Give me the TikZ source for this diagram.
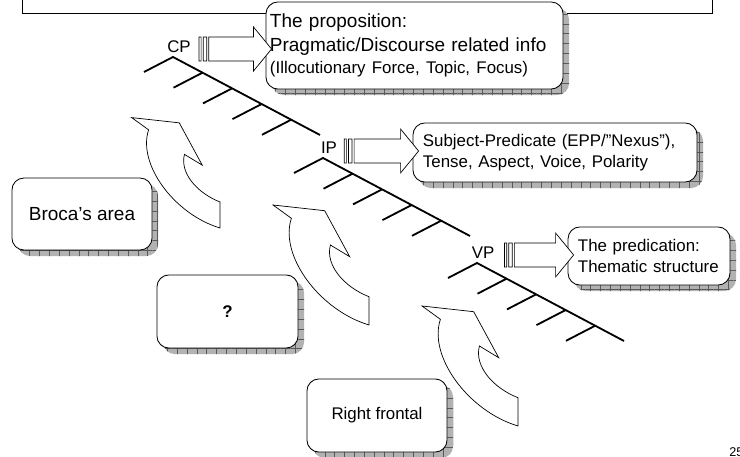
\documentclass[tikz,border=0pt]{standalone}
\usepackage{fontspec}
\setmainfont{Liberation Sans}
\usetikzlibrary{calc,shadows,patterns.meta}

\tikzset{
  box/.style={draw, fill=white, rounded corners=8.5pt, line width=0.6pt,
    general shadow={fill=gray!60, shadow xshift=4.3pt, shadow yshift=-4.3pt},
    general shadow={pattern={Hatch[distance=7pt,line width=0.35pt]}, pattern color=black!65,
      shadow xshift=4.3pt, shadow yshift=-4.3pt}},
  tree/.style={line width=1.3pt},
  blockarrow/.style={draw, fill=white, line width=0.5pt},
  lbl/.style={font=\fontsize{12}{14}\selectfont, inner sep=0pt},
}

% striped block arrow from a label to its box
\newcommand\striped[2]{%
  \draw[blockarrow] let \p1=(#1), \p2=(#2.west) in
    (\x1,\y1-8.5pt) rectangle (\x1+1.5pt,\y1+8.5pt)
    (\x1+3pt,\y1-8.5pt) rectangle (\x1+5.5pt,\y1+8.5pt)
    (\x1+7pt,\y1-8.5pt) -- (\x2-8.5pt,\y1-8.5pt) -- (\x2-8.5pt,\y1-15.6pt) -- (\x2+4.3pt,\y1)
    -- (\x2-8.5pt,\y1+15.6pt) -- (\x2-8.5pt,\y1+8.5pt) -- (\x1+7pt,\y1+8.5pt) -- cycle;}

\begin{document}
\begin{tikzpicture}[x=0.025cm,y=-0.025cm]
  \useasboundingbox (0,0) rectangle (740,457);

  % Title frame (cut off at the top)
  \draw[line width=0.6pt] (22,-20) rectangle (712,13);

  % Trees with their labels
  \foreach \ax/\ay/\nm in {173/57/CP, 323/158/IP, 477/263/VP}{
    \node[lbl] (\nm) at (\ax+6,\ay-10) {\nm};
    \draw[tree] (\ax-29,\ay+15) -- (\ax,\ay) -- ++(147,78);
    \foreach \k in {1,...,4}
      \draw[tree] (\ax+29.5*\k,\ay+15.7*\k) -- ++(-29,15);
  }

  % Curved arrows pointing up to the trees
  \foreach \bx/\by/\s in {220/228/0.92, 369/325/1, 518/426/1}{
    \begin{scope}[shift={(\bx,\by)}, scale=\s]
      \draw[blockarrow] (0,0) -- (0,-28.3) .. controls (-25,-38) and (-44,-60) .. (-38.6,-80)
        -- (-19.3,-68.3) -- (-44.3,-114.3) -- (-96,-120) -- (-77.6,-106.7)
        .. controls (-90,-70) and (-50,-15) .. (0,0) -- cycle;
    \end{scope}
  }

  % Boxes
  \node[box, inner xsep=2.85pt, text width=205.6pt, minimum height=61.9pt, align=left,
    font=\fontsize{13.5}{17}\selectfont] (cpbox) at (414.5,45.5)
    {The proposition:\\Pragmatic/Discourse related info\\[-1.5pt]
     {\fontsize{12}{15}\selectfont (Illocutionary Force, Topic, Focus)}};
  \node[box, inner xsep=7.1pt, text width=187.8pt, minimum height=42pt, align=left,
    font=\fontsize{12}{15}\selectfont] (ipbox) at (555,152.5)
    {Subject-Predicate (EPP/”Nexus”),\\Tense, Aspect, Voice, Polarity};
  \node[box, inner xsep=7.1pt, text width=101pt, minimum height=41.3pt, align=left,
    font=\fontsize{12}{14.5}\selectfont] (vpbox) at (649,256)
    {The predication:\\Thematic structure};

  \node[box, minimum width=99.6pt, minimum height=51.2pt,
    font=\fontsize{13.5}{16}\selectfont] (broca) at (82,214) {Broca's area};
  \node[box, minimum width=100.3pt, minimum height=52pt,
    font=\fontsize{12}{14}\selectfont\bfseries] (unknown) at (227.5,311.5) {?};
  \node[box, minimum width=99.6pt, minimum height=52pt,
    font=\fontsize{12}{14}\selectfont] (rfrontal) at (377,415.5) {Right frontal};

  % Label to box arrows
  \striped{$(CP.east)+(8,2)$}{cpbox}
  \striped{$(IP.east)+(7,3)$}{ipbox}
  \striped{$(VP.east)+(10,2)$}{vpbox}

  % Page number
  \node[anchor=base west, inner sep=0pt, font=\fontsize{9}{10}\selectfont] (pnum) at (729,456) {25};
\end{tikzpicture}
\end{document}
